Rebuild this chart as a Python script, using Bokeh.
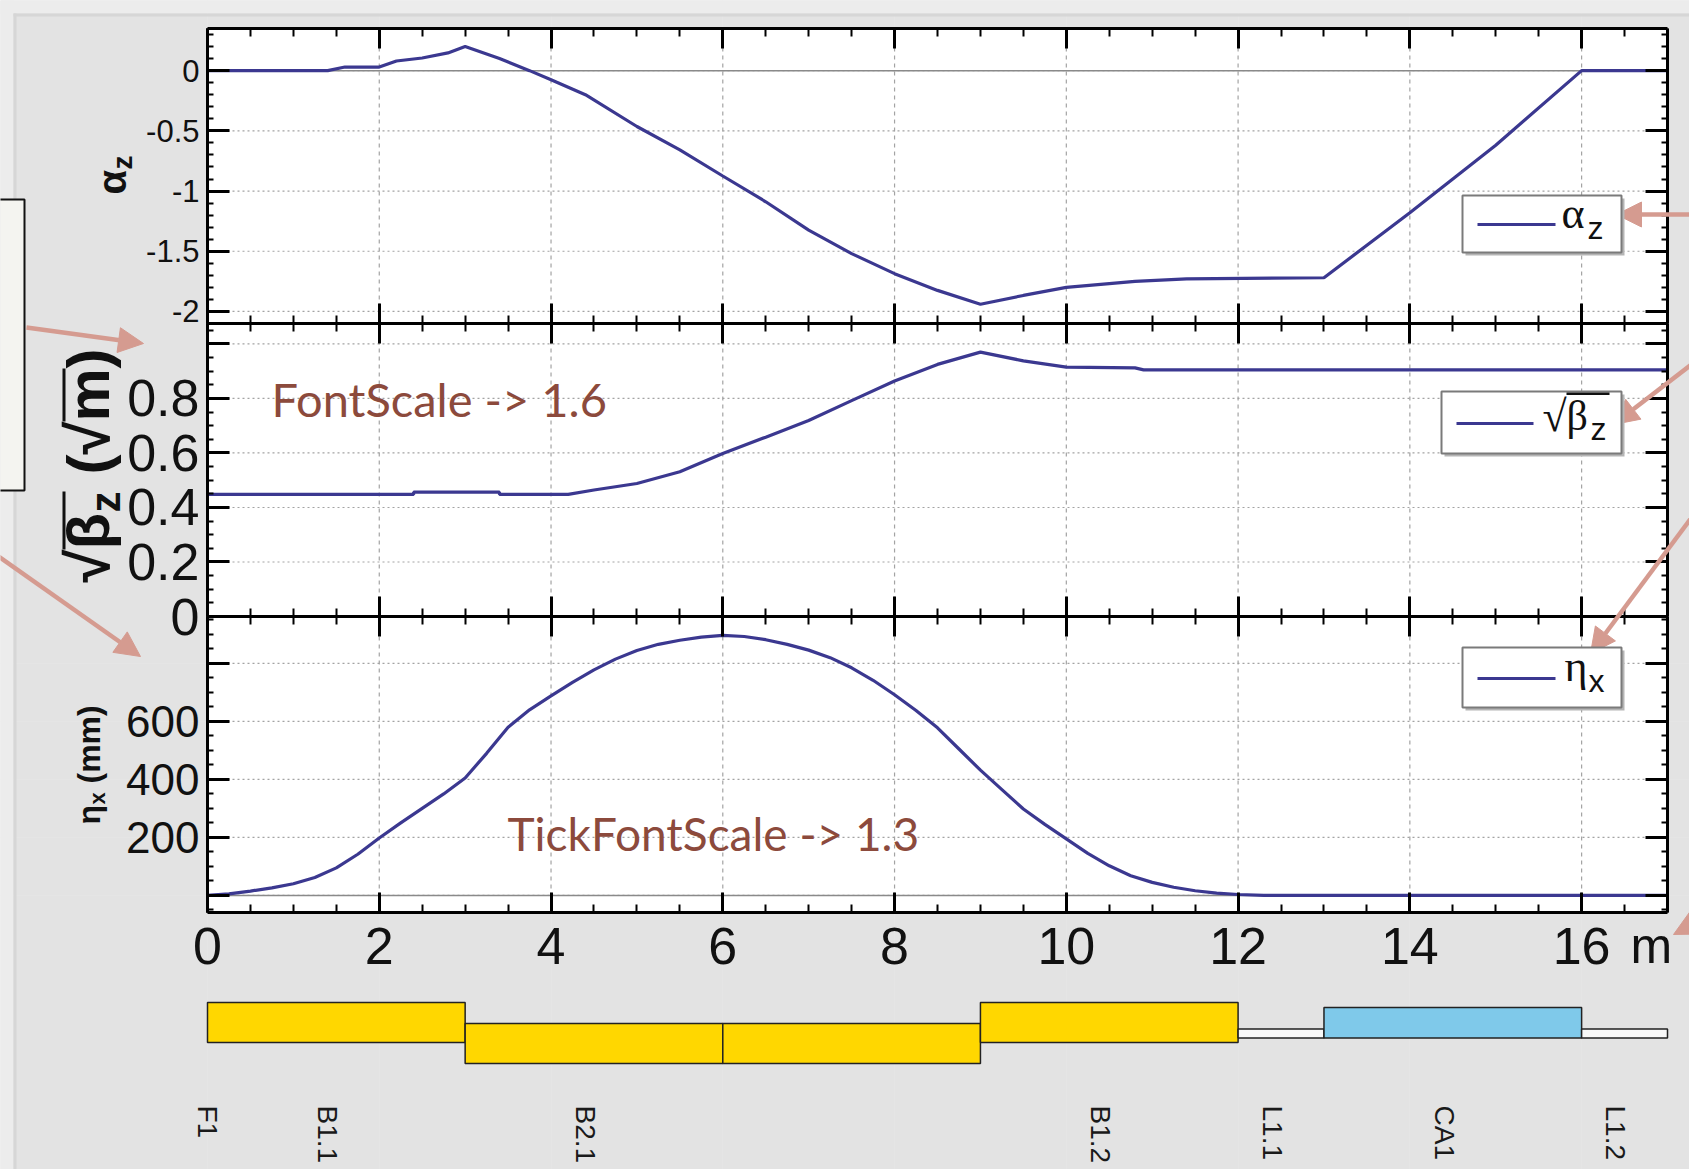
import math
from bokeh.plotting import figure
from bokeh.models import (Range1d, LinearAxis, FixedTicker, CustomJSTickFormatter,
                          Label, BoxAnnotation, Arrow, NormalHead, ColumnDataSource)
from bokeh.embed import file_html
from bokeh.resources import INLINE
from bokeh.core.properties import value

# ---------------- data ----------------
S_ALPHA = [0, 1.4, 1.6, 2.0, 2.2, 2.5, 2.8, 3.0, 3.4, 3.75, 4.0, 4.4, 5.0, 5.5, 6.0, 6.5, 7.0, 7.5,
           8.0, 8.5, 9.0, 9.5, 10.0, 10.8, 11.4, 13.0, 14.0, 15.0, 16.0, 17.0]
ALPHA_Z = [0, 0, 0.03, 0.03, 0.08, 0.105, 0.147, 0.2, 0.1, 0, -0.075, -0.2, -0.464, -0.658, -0.875,
           -1.089, -1.325, -1.52, -1.686, -1.825, -1.94, -1.867, -1.80, -1.75, -1.73, -1.72, -1.18,
           -0.62, 0, 0]

S_BETA = [0, 2.4, 2.4, 3.4, 3.4, 4.2, 4.5, 5.0, 5.5, 6.0, 6.5, 7.0, 7.5, 8.0, 8.5, 9.0, 9.5, 10.0,
          10.8, 10.9, 17.0]
SQRT_BETA = [0.448, 0.448, 0.456, 0.456, 0.448, 0.448, 0.464, 0.488, 0.531, 0.598, 0.658, 0.719,
             0.792, 0.864, 0.925, 0.970, 0.938, 0.915, 0.912, 0.905, 0.905]

S_ETA = [0, 0.25, 0.5, 0.75, 1.0, 1.25, 1.5, 1.75, 2.0, 2.25, 2.5, 2.75, 3.0, 3.25, 3.5, 3.75,
         4.0, 4.25, 4.5, 4.75, 5.0, 5.25, 5.5, 5.75, 6.0, 6.25, 6.5, 6.75, 7.0, 7.25, 7.5, 7.75,
         8.0, 8.25, 8.5, 8.75, 9.0, 9.25, 9.5, 9.75, 10.0, 10.25, 10.5, 10.75, 11.0, 11.25, 11.5,
         11.75, 12.0, 12.3, 17.0]
ETA_X = [0, 5, 15, 26, 40, 62, 95, 142, 198, 250, 300, 350, 405, 490, 580, 640,
         688, 735, 778, 815, 845, 866, 880, 891, 897, 893, 882, 866, 846, 820, 785, 742,
         692, 638, 578, 505, 432, 365, 298, 245, 195, 145, 102, 68, 45, 28, 16,
         8, 3, 0, 0]

X_TICKS = [0, 2, 4, 6, 8, 10, 12, 14, 16]
X_TICK_LABELS = ["0", "2", "4", "6", "8", "10", "12", "14", "16"]
X_UNIT = "m"
ALPHA_TICKS = [-2, -1.5, -1, -0.5, 0]
ALPHA_TICK_LABELS = ["-2", "-1.5", "-1", "-0.5", "0"]
BETA_TICKS = [0, 0.2, 0.4, 0.6, 0.8, 1.0]
BETA_TICK_LABELS = ["0", "0.2", "0.4", "0.6", "0.8", ""]
ETA_TICKS = [0, 200, 400, 600, 800]
ETA_TICK_LABELS = ["", "200", "400", "600", ""]

ELEM_START = [0, 3, 6, 9, 12, 13, 16]
ELEM_END = [3, 6, 9, 12, 13, 16, 17]
ELEM_KIND = ["bend_up", "bend_down", "bend_down", "bend_up", "drift", "cavity", "drift"]
LABEL_NAMES = ["F1", "B1.1", "B2.1", "B1.2", "L1.1", "CA1", "L1.2"]
LABEL_S = [0, 1.4, 4.4, 10.4, 12.4, 14.4, 16.4]

# ---------------- layout / style ----------------
W, H = 1689, 1169
FL, FR = 207, 1667            # plot frame, page x
XMIN, XMAX = 0, 17
PANELS = {                     # name: (ymin, ymax, page_top, page_bottom)
    "alpha": (-2.10, 0.35, 28, 323),
    "beta": (0.0, 1.075, 323, 616),
    "eta": (-59.0, 962.0, 616, 912),
    "lat": (-13.6, 4.3, 990, 1169),
}
PANEL_BG = "#e3e3e3"
OUTER_BG = "#ececec"
CURVE = "#3b3890"
ARROW_C = "#d59b90"
NOTE_C = "#8c4a3c"
GRID_C = "#a3a3a3"
SANS = "Liberation Sans"
SERIF = "Liberation Serif"
KIND_STYLE = {"bend_up": (3.1, -0.9, "#ffd700"), "bend_down": (1.0, -3.0, "#ffd700"),
              "cavity": (2.6, -0.45, "#7fc9ea"), "drift": (0.45, -0.45, "#f8f8f8")}
BASE_CORR = 0.4   # label baseline correction (fraction of font size)


def tick_list(a, b, step):
    n = int(round((b - a) / step))
    return [round(a + i * step, 6) for i in range(n + 1)]


def page_range(vmin, vmax, p0, p1, total, flip):
    k = (vmax - vmin) / (p1 - p0)
    if flip:   # page coordinate grows downward
        return Range1d(vmin - (total - p1) * k, vmax + p0 * k)
    return Range1d(vmin - p0 * k, vmax + (total - p1) * k)


def fmt(ticks, labels):
    return CustomJSTickFormatter(args=dict(tv=ticks, tl=labels), code="""
        for (let i = 0; i < tv.length; i++) { if (Math.abs(tv[i] - tick) < 1e-6) return tl[i]; }
        return "";""")


p = figure(width=W, height=H, output_backend="svg", toolbar_location=None,
           x_range=page_range(XMIN, XMAX, FL, FR, W, False),
           y_range=page_range(*PANELS["eta"], H, True),
           x_axis_location=None, y_axis_location=None,
           min_border=0, min_border_left=0, min_border_right=0, min_border_top=0,
           min_border_bottom=0)
p.extra_y_ranges = {k: page_range(*PANELS[k], H, True) for k in ("alpha", "beta", "lat")}
p.background_fill_color = PANEL_BG
p.border_fill_color = PANEL_BG
p.outline_line_color = None


def rn(name):
    return "default" if name == "eta" else name


# ---------- screen-space helpers (page coords, y down) ----------
def box(x0, y0, x1, y1, fill, line=None, lw=0, level="annotation", alpha=1.0):
    p.add_layout(BoxAnnotation(left=x0, right=x1, top=H - y0, bottom=H - y1,
                               left_units="screen", right_units="screen",
                               top_units="screen", bottom_units="screen",
                               fill_color=fill, fill_alpha=alpha,
                               line_color=line, line_width=lw, line_alpha=1 if line else 0,
                               level=level))


def arrow(x0, y0, x1, y1, color=ARROW_C, lw=4.5, head=25):
    end = NormalHead(size=head, fill_color=color, line_color=color, line_width=1) if head else None
    p.add_layout(Arrow(x_start=x0, y_start=H - y0, x_end=x1, y_end=H - y1,
                       start_units="screen", end_units="screen", line_color=color,
                       line_width=lw, end=end))


def txt(px, py, s, size, font=SANS, style="normal", color="#111111", rot=False):
    if rot:
        px = px - BASE_CORR * size
    else:
        py = py - BASE_CORR * size
    p.add_layout(Label(x=px, y=H - py, x_units="screen", y_units="screen", text=s,
                       angle=math.pi / 2 if rot else 0.0, text_font=font,
                       text_font_size=f"{size}px", text_font_style=style, text_color=color,
                       text_align="left", text_baseline="alphabetic"))


# ---------- page background ----------
box(-5, -5, W + 5, 13, OUTER_BG, level="underlay")
box(-5, -5, 13, H + 5, OUTER_BG, level="underlay")
box(13, 13, W + 5, 16, "#d6d6d6", level="underlay")
box(13, 13, 16, H + 5, "#d6d6d6", level="underlay")
box(FL, PANELS["alpha"][2], FR, PANELS["eta"][3], "white", level="underlay")


# ---------- axes ----------
def make_axis(ticks, minor, bounds, yname, fixed, formatter=None, size=0, standoff=8,
              tick_len=20, minor_len=8):
    kw = dict(ticker=FixedTicker(ticks=ticks, minor_ticks=minor), bounds=bounds,
              fixed_location=fixed, y_range_name=yname,
              axis_line_color="black", axis_line_width=3,
              major_tick_in=tick_len, major_tick_out=0, minor_tick_in=minor_len, minor_tick_out=0,
              major_tick_line_color="black", major_tick_line_width=3,
              minor_tick_line_color="black", minor_tick_line_width=2)
    if formatter is None:
        kw.update(major_label_text_font_size="0px", major_label_standoff=0,
                  formatter=CustomJSTickFormatter(code="return ''"))
    else:
        kw.update(formatter=formatter, major_label_text_font=SANS,
                  major_label_text_font_size=f"{size}px", major_label_standoff=standoff,
                  major_label_text_color="#111111")
    return LinearAxis(**kw)


X_MINOR = tick_list(0, 17, 0.5)
panel_axes = [
    ("alpha", ALPHA_TICKS, ALPHA_TICK_LABELS, tick_list(-2.1, 0.3, 0.1), 31),
    ("beta", BETA_TICKS, BETA_TICK_LABELS, tick_list(0, 1.05, 0.05), 52),
    ("eta", ETA_TICKS, ETA_TICK_LABELS, tick_list(-50, 950, 50), 44),
]
for name, ticks, labels, minor, size in panel_axes:
    ymin, ymax, _, _ = PANELS[name]
    yn = rn(name)
    p.add_layout(make_axis(ticks, minor, (ymin, ymax), yn, XMIN, fmt(ticks, labels), size,
                           standoff=8, tick_len=22, minor_len=6), "left")
    p.add_layout(make_axis(ticks, minor, (ymin, ymax), yn, XMAX, tick_len=22, minor_len=6),
                 "right")
    p.add_layout(make_axis(X_TICKS, X_MINOR, (XMIN, XMAX), yn, ymax), "above")
    if name == "eta":
        p.add_layout(make_axis(X_TICKS, X_MINOR, (XMIN, XMAX), yn, ymin,
                               fmt(X_TICKS, X_TICK_LABELS), 52, standoff=15), "below")
    else:
        p.add_layout(make_axis(X_TICKS, X_MINOR, (XMIN, XMAX), yn, ymin), "below")
    # grid
    n = len(X_TICKS)
    p.segment(x0=X_TICKS, y0=[ymin] * n, x1=X_TICKS, y1=[ymax] * n, y_range_name=yn,
              line_color=GRID_C, line_width=1.2, line_dash="4 4")
    m = len(ticks)
    p.segment(x0=[XMIN] * m, y0=ticks, x1=[XMAX] * m, y1=ticks, y_range_name=yn,
              line_color=GRID_C, line_width=1.2, line_dash="2 3")

# zero lines
for name in ("alpha", "eta"):
    p.segment(x0=[XMIN], y0=[0], x1=[XMAX], y1=[0], y_range_name=rn(name),
              line_color="#8a8a8a", line_width=1.5)

# ---------- curves ----------
p.line(S_ALPHA, ALPHA_Z, y_range_name="alpha", line_color=CURVE, line_width=3.2)
p.line(S_BETA, SQRT_BETA, y_range_name="beta", line_color=CURVE, line_width=3.2)
p.line(S_ETA, ETA_X, line_color=CURVE, line_width=3.2)

# ---------- lattice ----------
lat = ColumnDataSource(dict(
    left=ELEM_START, right=ELEM_END,
    top=[KIND_STYLE[k][0] for k in ELEM_KIND],
    bottom=[KIND_STYLE[k][1] for k in ELEM_KIND],
    color=[KIND_STYLE[k][2] for k in ELEM_KIND]))
p.quad(left="left", right="right", top="top", bottom="bottom", fill_color="color",
       line_color="#222222", line_width=1.5, source=lat, y_range_name="lat")
p.text(x=LABEL_S, y=[-7.2] * len(LABEL_S), text=LABEL_NAMES, angle=-math.pi / 2,
       y_range_name="lat", text_font=value(SANS), text_font_size="28px",
       text_color="#1a1a1a", text_align="left", text_baseline="middle")

# ---------- call-out box and arrows ----------
box(-5, 199, 24, 490, "#f4f4f0", "#111111", 2)
arrow(26, 327, 143, 343)
arrow(-2, 556, 140, 656)
arrow(1700, 214, 1616, 214)
arrow(1700, 357, 1613, 424)
arrow(1700, 505, 1590, 653)
arrow(1715, 912, 1673, 934)


# ---------- legends ----------
def legend(x0, y0, x1, y1, lx0, lx1, ly):
    box(x0 + 3, y0 + 3, x1 + 3, y1 + 3, "#b5b5b5")
    box(x0, y0, x1, y1, "white", "#7a7a7a", 2)
    arrow(lx0, ly, lx1, ly, color=CURVE, lw=3, head=0)


legend(1462, 195, 1621, 252, 1477, 1555, 224)
txt(1561, 231, "α", 44, font=SERIF)
txt(1587, 240, "z", 32)

legend(1441, 391, 1621, 453, 1456, 1533, 423)
txt(1542, 434, "√", 44, font=SERIF)
txt(1566, 432, "β", 42, font=SERIF)
txt(1590, 441, "z", 32)
box(1566, 392, 1609, 394.5, "#111111")

legend(1462, 647, 1621, 707, 1477, 1555, 678)
txt(1564, 684, "η", 44, font=SERIF)
txt(1588, 693, "x", 32)

# ---------- axis titles (rotated, reading upward) ----------
txt(127, 194, "α", 40, style="bold", rot=True)
txt(133, 169, "z", 28, style="bold", rot=True)

txt(112, 582, "√", 60, style="bold", rot=True)
txt(112, 549, "β", 60, style="bold", rot=True)
txt(122, 512, "z", 42, style="bold", rot=True)
txt(112, 474, "(", 60, style="bold", rot=True)
txt(112, 454, "√", 60, style="bold", rot=True)
txt(112, 421, "m", 60, style="bold", rot=True)
txt(112, 368, ")", 60, style="bold", rot=True)
box(62, 491, 65, 549, "#111111")
box(62, 368, 65, 421, "#111111")

txt(101, 824, "η", 32, style="bold", rot=True)
txt(106, 804, "x", 22, style="bold", rot=True)
txt(101, 783, "(mm)", 32, style="bold", rot=True)

# ---------- notes ----------
txt(271, 417, "FontScale -> 1.6", 47, font="Lato", color=NOTE_C)
txt(507, 851, "TickFontScale -> 1.3", 46, font="Lato", color=NOTE_C)

# ---------- unit on the s axis ----------
txt(1630, 965, X_UNIT, 50)

open("out.html", "w").write(file_html(p, INLINE))
